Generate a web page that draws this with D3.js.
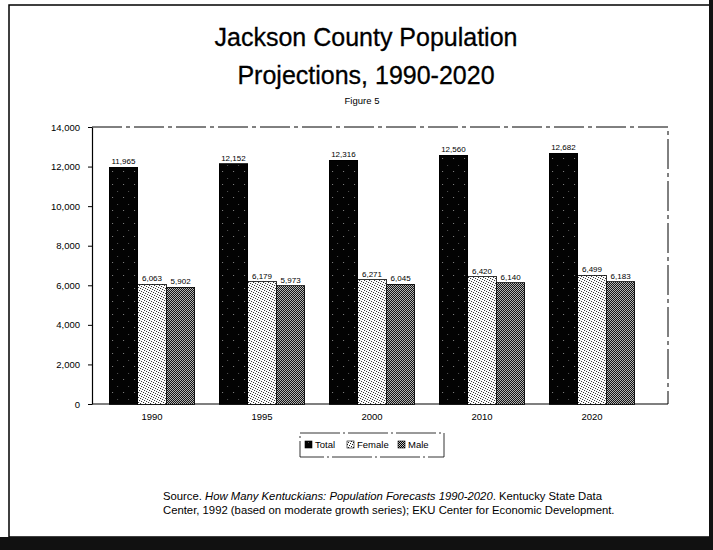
<!DOCTYPE html>
<html>
<head>
<meta charset="utf-8">
<script src="https://cdn.jsdelivr.net/npm/d3@7"></script>
<style>
  body { margin: 0; background: white; }
  svg text { font-family: "Liberation Sans", Arial, sans-serif; }
</style>
</head>
<body>
<svg id="chart" width="713" height="550"></svg>
<script>
// data
var years = ["1990", "1995", "2000", "2010", "2020"];
var series = ["Total", "Female", "Male"];
var total = [11965, 12152, 12316, 12560, 12682];
var female = [6063, 6179, 6271, 6420, 6499];
var male = [5902, 5973, 6045, 6140, 6183];
var yTicks = [0, 2000, 4000, 6000, 8000, 10000, 12000, 14000];

var svg = d3.select("#chart");
var fmt = d3.format(",");

// plot area (not "top" - that name is taken by window.top)
var plotLeft = 92, plotRight = 668, plotTop = 127, plotBottom = 404;

// patterns for the three series
var defs = svg.append("defs");
var pTotal = defs.append("pattern").attr("id", "pTotal")
	.attr("patternUnits", "userSpaceOnUse").attr("width", 11).attr("height", 13);
pTotal.append("rect").attr("width", 11).attr("height", 13).attr("fill", "#030303");
pTotal.append("rect").attr("x", 3).attr("y", 2).attr("width", 1).attr("height", 1).attr("fill", "#888");
pTotal.append("rect").attr("x", 8).attr("y", 9).attr("width", 1).attr("height", 1).attr("fill", "#555");

// stipple for female: knight-move dots in a 5x5 cell
var pFemale = defs.append("pattern").attr("id", "pFemale")
	.attr("patternUnits", "userSpaceOnUse").attr("width", 5).attr("height", 5);
pFemale.append("rect").attr("width", 5).attr("height", 5).attr("fill", "white");
[[0, 0], [2, 1], [4, 2], [1, 3], [3, 4]].forEach(function(p) {
	pFemale.append("rect").attr("x", p[0]).attr("y", p[1]).attr("width", 1).attr("height", 1).attr("fill", "#222");
});

var pMale = defs.append("pattern").attr("id", "pMale")
	.attr("patternUnits", "userSpaceOnUse").attr("width", 2).attr("height", 2);
pMale.append("rect").attr("width", 2).attr("height", 2).attr("fill", "#c8c8c8");
pMale.append("rect").attr("x", 0).attr("y", 0).attr("width", 1).attr("height", 1).attr("fill", "#000");
pMale.append("rect").attr("x", 1).attr("y", 1).attr("width", 1).attr("height", 1).attr("fill", "#000");

var fills = ["url(#pTotal)", "url(#pFemale)", "url(#pMale)"];

// outer page frame
svg.append("rect").attr("x", 9).attr("y", 5).attr("width", 701).attr("height", 532)
	.attr("fill", "none").attr("stroke", "black").attr("stroke-width", 1.5);
svg.append("rect").attr("x", 0).attr("y", 537).attr("width", 713).attr("height", 13).attr("fill", "#111");
svg.append("rect").attr("x", 709).attr("y", 0).attr("width", 4).attr("height", 550).attr("fill", "#111");

// titles
svg.append("text").attr("x", 366).attr("y", 46).attr("text-anchor", "middle")
	.attr("font-size", "25px").attr("stroke", "black").attr("stroke-width", 0.3)
	.text("Jackson County Population");
svg.append("text").attr("x", 366).attr("y", 84).attr("text-anchor", "middle")
	.attr("font-size", "25px").attr("stroke", "black").attr("stroke-width", 0.3)
	.text("Projections, 1990-2020");
svg.append("text").attr("x", 362).attr("y", 104).attr("text-anchor", "middle")
	.attr("font-size", "9.5px").text("Figure 5");

// scales
var x0 = d3.scaleBand().domain(years).range([97, 647]).paddingInner(0.22).paddingOuter(0.11);
var x1 = d3.scaleBand().domain(series).range([0, x0.bandwidth()]);
var y = d3.scaleLinear().domain([0, 14000]).range([plotBottom, plotTop]);

// dashed top and right frame of plot
svg.append("path")
	.attr("d", "M" + plotLeft + "," + plotTop + "H" + plotRight + "V" + plotBottom)
	.attr("fill", "none").attr("stroke", "black").attr("stroke-dasharray", "30,4,4,4");

// y axis
var yAxis = svg.append("g").attr("transform", "translate(" + plotLeft + ",0)")
	.call(d3.axisLeft(y).tickValues(yTicks).tickFormat(fmt).tickSize(4).tickSizeOuter(0));
yAxis.selectAll("text").attr("font-size", "9.5px").attr("x", -12);
yAxis.select(".domain").attr("stroke-width", 1.2);

// x axis
var xAxis = svg.append("g").attr("transform", "translate(0," + plotBottom + ")")
	.call(d3.axisBottom(x0).tickSize(0).tickSizeOuter(0));
xAxis.select(".domain").attr("d", "M" + plotLeft + ",0H" + plotRight).attr("stroke-width", 1.2);
xAxis.selectAll("text").attr("font-size", "9.5px").attr("dy", "1.4em");

// bars, one group per year
var rows = years.map(function(yr, i) {
	return { year: yr, vals: [total[i], female[i], male[i]] };
});
var groups = svg.selectAll("g.yr").data(rows).enter().append("g")
	.attr("class", "yr")
	.attr("transform", function(d) { return "translate(" + x0(d.year) + ",0)"; });

groups.selectAll("rect").data(function(d) { return d.vals; }).enter().append("rect")
	.attr("x", function(d, i) { return x1(series[i]); })
	.attr("y", function(d) { return y(d); })
	.attr("width", x1.bandwidth())
	.attr("height", function(d) { return plotBottom - y(d); })
	.attr("fill", function(d, i) { return fills[i]; })
	.attr("stroke", "black").attr("stroke-width", 0.8)
	.attr("shape-rendering", "crispEdges");

// value labels above bars
groups.selectAll("text").data(function(d) { return d.vals; }).enter().append("text")
	.attr("x", function(d, i) { return x1(series[i]) + x1.bandwidth() / 2; })
	.attr("y", function(d) { return y(d) - 3; })
	.attr("text-anchor", "middle")
	.attr("font-size", "8px")
	.text(function(d) { return fmt(d); });

// legend
var legend = svg.append("g").attr("transform", "translate(300,433)");
legend.append("rect").attr("width", 144).attr("height", 24)
	.attr("fill", "none").attr("stroke", "black").attr("stroke-width", 0.8)
	.attr("stroke-dasharray", "40,3,2,3");
var legX = [5, 47, 98];
series.forEach(function(s, i) {
	legend.append("rect").attr("x", legX[i]).attr("y", 8).attr("width", 7).attr("height", 7)
		.attr("fill", fills[i]).attr("stroke", "black").attr("stroke-width", 0.6);
	legend.append("text").attr("x", legX[i] + 10).attr("y", 15)
		.attr("font-size", "9.5px").text(s);
});

// source note
var src = svg.append("text").attr("x", 163).attr("y", 500).attr("font-size", "11.3px");
src.append("tspan").text("Source. ");
src.append("tspan").attr("font-style", "italic").text("How Many Kentuckians: Population Forecasts 1990-2020");
src.append("tspan").text(". Kentucky State Data");
svg.append("text").attr("x", 163).attr("y", 514).attr("font-size", "11.3px")
	.text("Center, 1992 (based on moderate growth series); EKU Center for Economic Development.");
</script>
</body>
</html>
